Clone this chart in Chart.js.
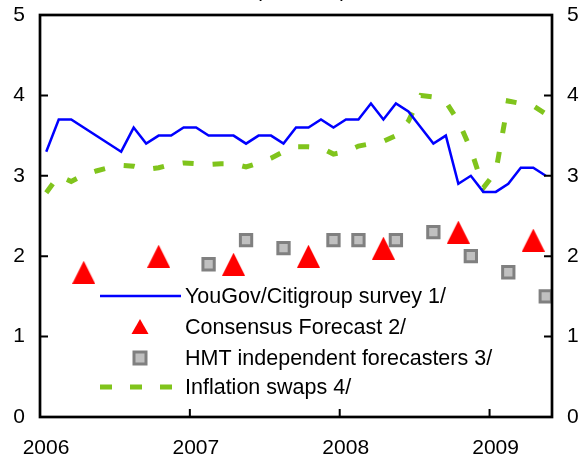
<!DOCTYPE html>
<html>
<head>
<meta charset="utf-8">
<script src="https://cdn.jsdelivr.net/npm/chart.js@4/dist/chart.umd.min.js"></script>
<style>
  body { margin: 0; background: #fff; }
  #wrap { position: relative; width: 585px; height: 458px; overflow: hidden; }
  #unit {
    position: absolute; left: 0; width: 602px; top: -20px;
    text-align: center; font: 21px 'Liberation Sans', Arial, sans-serif;
    line-height: 20px; color: #000;
  }
  canvas { position: absolute; left: 0; top: 0; }
</style>
</head>
<body>
<div id="wrap">
  <canvas id="chart" width="585" height="458"></canvas>
  <div id="unit">(Per cent)</div>
</div>
<script>
// monthly categories, Jan 2006 - May 2009
const months = [
  'Jan 2006', 'Feb 2006', 'Mar 2006', 'Apr 2006', 'May 2006', 'Jun 2006',
  'Jul 2006', 'Aug 2006', 'Sep 2006', 'Oct 2006', 'Nov 2006', 'Dec 2006',
  'Jan 2007', 'Feb 2007', 'Mar 2007', 'Apr 2007', 'May 2007', 'Jun 2007',
  'Jul 2007', 'Aug 2007', 'Sep 2007', 'Oct 2007', 'Nov 2007', 'Dec 2007',
  'Jan 2008', 'Feb 2008', 'Mar 2008', 'Apr 2008', 'May 2008', 'Jun 2008',
  'Jul 2008', 'Aug 2008', 'Sep 2008', 'Oct 2008', 'Nov 2008', 'Dec 2008',
  'Jan 2009', 'Feb 2009', 'Mar 2009', 'Apr 2009', 'May 2009'
];

// YouGov/Citigroup survey (gaps where there was no survey)
const yougov = [
  3.3, 3.7, 3.7, null, null, null, 3.3, 3.6, 3.4, 3.5, 3.5, 3.6,
  3.6, 3.5, 3.5, 3.5, 3.4, 3.5, 3.5, 3.4, 3.6, 3.6, 3.7, 3.6,
  3.7, 3.7, 3.9, 3.7, 3.9, 3.8, 3.6, 3.4, 3.5, 2.9, 3.0, 2.8,
  2.8, 2.9, 3.1, 3.1, 3.0
];

// Inflation swaps
const swaps = [
  2.79, 3.0, 2.93, 3.01, 3.06, 3.1, 3.13, 3.12, 3.08, 3.1, 3.14, 3.16,
  3.15, 3.14, 3.15, 3.15, 3.11, 3.16, 3.22, 3.3, 3.36, 3.36, 3.35, 3.27,
  3.3, 3.37, 3.4, 3.43, 3.5, 3.68, 4.0, 3.98, 3.92, 3.68, 3.33, 2.85,
  3.05, 3.93, 3.9, 3.87, 3.77
];

// Consensus Forecast
const consensusMonths = ['Apr 2006', 'Oct 2006', 'Apr 2007', 'Oct 2007', 'Apr 2008', 'Oct 2008', 'Apr 2009'];
const consensusValues = [1.8, 2.0, 1.9, 2.0, 2.1, 2.3, 2.2];

// HMT independent forecasters
const hmtMonths = ['Feb 2007', 'May 2007', 'Aug 2007', 'Dec 2007', 'Feb 2008', 'May 2008', 'Aug 2008', 'Nov 2008', 'Feb 2009', 'May 2009'];
const hmtValues = [1.9, 2.2, 2.1, 2.2, 2.2, 2.2, 2.3, 2.0, 1.8, 1.5];

const yearLabels = ['2006', '2007', '2008', '2009'];
const yTicks = [0, 1, 2, 3, 4, 5];

const seriesNames = [
  'YouGov/Citigroup survey 1/',
  'Consensus Forecast 2/',
  'HMT independent forecasters 3/',
  'Inflation swaps 4/'
];

// points sit in the middle of each month
const monthX = m => months.indexOf(m) + 0.5;
const toPoints = (vals) => vals.map((v, i) => ({ x: i + 0.5, y: v }));
const sparse = (ms, vals) => ms.map((m, i) => ({ x: monthX(m), y: vals[i] }));

const FONT = "'Liberation Sans', Arial, sans-serif";
const BLUE = '#0000ff';
const RED = '#ff0000';
const GREEN = '#80c41c';

// excel-like triangle marker (as tall as it is wide)
const makeTriangle = (w, h) => {
    const c = document.createElement('canvas');
    c.width = w; c.height = h;
    const g = c.getContext('2d');
    g.fillStyle = RED;
    g.beginPath();
    g.moveTo(w / 2, 0);
    g.lineTo(w, h);
    g.lineTo(0, h);
    g.closePath();
    g.fill();
    return c;
};
const triangle = makeTriangle(23, 23);

// frame, inward tick marks and the legend
const framePlugin = {
    id: 'frame',
    afterDraw(chart) {
        const { ctx, chartArea: a, scales } = chart;
        ctx.save();
        ctx.strokeStyle = '#000';
        ctx.lineWidth = 2.7;
        ctx.strokeRect(a.left, a.top, a.right - a.left, a.bottom - a.top);
        ctx.lineWidth = 2;
        ctx.beginPath();
        yTicks.forEach(v => {
            const y = scales.y.getPixelForValue(v);
            ctx.moveTo(a.left, y); ctx.lineTo(a.left + 8, y);
            ctx.moveTo(a.right, y); ctx.lineTo(a.right - 8, y);
        });
        yearLabels.forEach((_, i) => {
            const x = scales.x.getPixelForValue(i * 12);
            ctx.moveTo(x, a.bottom); ctx.lineTo(x, a.bottom - 8);
        });
        ctx.stroke();

        // legend
        const ds = chart.data.datasets;
        const rows = [296, 327, 358, 387];
        ctx.font = '21.5px ' + FONT;
        ctx.fillStyle = '#000';
        ctx.textBaseline = 'middle';
        seriesNames.forEach((name, i) => ctx.fillText(name, 185, rows[i] + 1));

        ctx.strokeStyle = ds[0].borderColor;
        ctx.lineWidth = ds[0].borderWidth;
        ctx.beginPath();
        ctx.moveTo(100, rows[0]); ctx.lineTo(181, rows[0]);
        ctx.stroke();

        ctx.fillStyle = RED;
        ctx.beginPath();
        ctx.moveTo(140, rows[1] - 8); ctx.lineTo(148.5, rows[1] + 7); ctx.lineTo(131.5, rows[1] + 7);
        ctx.closePath();
        ctx.fill();

        ctx.fillStyle = ds[2].backgroundColor;
        ctx.strokeStyle = ds[2].borderColor;
        ctx.lineWidth = ds[2].borderWidth;
        ctx.fillRect(134, rows[2] - 6, 12, 12);
        ctx.strokeRect(134, rows[2] - 6, 12, 12);

        ctx.strokeStyle = ds[3].borderColor;
        ctx.lineWidth = ds[3].borderWidth;
        ctx.setLineDash([12, 18]);
        ctx.beginPath();
        ctx.moveTo(100, rows[3]); ctx.lineTo(173, rows[3]);
        ctx.stroke();
        ctx.restore();
    }
};

const yAxis = (position, width, padding) => ({
    position: position,
    min: 0,
    max: 5,
    grid: { display: false, drawTicks: false },
    border: { display: false },
    ticks: { stepSize: 1, padding: padding, color: '#000', font: { family: FONT, size: 21 } },
    afterBuildTicks: s => { s.ticks = yTicks.map(v => ({ value: v })); },
    afterFit: s => { s.width = width; s.paddingTop = 0; s.paddingBottom = 0; }
});

const ctx = document.getElementById('chart').getContext('2d');
new Chart(ctx, {
    type: 'line',
    data: {
        datasets: [
            {
                label: seriesNames[0],
                data: toPoints(yougov),
                borderColor: BLUE,
                borderWidth: 2.5,
                pointRadius: 0,
                spanGaps: true,
                tension: 0,
                order: 2
            },
            {
                label: seriesNames[1],
                data: sparse(consensusMonths, consensusValues),
                showLine: false,
                pointStyle: triangle,
                pointRadius: 12,
                order: 0
            },
            {
                label: seriesNames[2],
                data: sparse(hmtMonths, hmtValues),
                showLine: false,
                pointStyle: 'rect',
                pointRadius: 8,
                backgroundColor: '#c0c0c0',
                borderColor: '#808080',
                borderWidth: 3,
                pointBackgroundColor: '#c0c0c0',
                pointBorderColor: '#808080',
                pointBorderWidth: 3,
                order: 1
            },
            {
                label: seriesNames[3],
                data: toPoints(swaps),
                borderColor: GREEN,
                borderWidth: 5,
                borderDash: [11, 19],
                borderCapStyle: 'butt',
                pointRadius: 0,
                tension: 0,
                order: 3
            }
        ]
    },
    options: {
        responsive: false,
        animation: false,
        layout: { padding: { top: 15 } },
        plugins: {
            legend: { display: false },
            tooltip: { enabled: false }
        },
        scales: {
            x: {
                type: 'linear',
                min: 0,
                max: months.length,
                grid: { display: false, drawTicks: false },
                border: { display: false },
                ticks: {
                    padding: 19,
                    labelOffset: 6,
                    maxRotation: 0,
                    color: '#000',
                    font: { family: FONT, size: 21 },
                    callback: v => yearLabels[v / 12]
                },
                afterBuildTicks: s => { s.ticks = yearLabels.map((_, i) => ({ value: i * 12 })); },
                afterFit: s => { s.height = 41; s.paddingLeft = 0; s.paddingRight = 0; }
            },
            y: yAxis('left', 40, 15),
            y2: yAxis('right', 33, 15)
        }
    },
    plugins: [framePlugin]
});
</script>
</body>
</html>
